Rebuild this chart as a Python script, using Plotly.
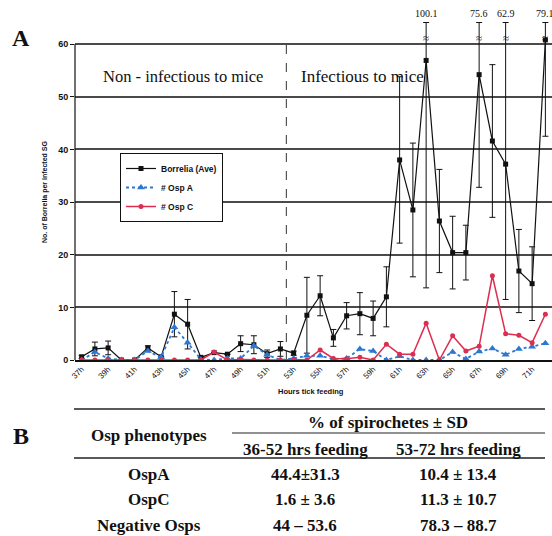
import plotly.graph_objects as go

# ---------------- data ----------------
hours = ["37h", "38h", "39h", "40h", "41h", "42h", "43h", "44h", "45h", "46h",
         "47h", "48h", "49h", "50h", "51h", "52h", "53h", "54h", "55h", "56h",
         "57h", "58h", "59h", "60h", "61h", "62h", "63h", "64h", "65h", "66h",
         "67h", "68h", "69h", "70h", "71h", "72h"]
tick_labels = ["37h", "39h", "41h", "43h", "45h", "47h", "49h", "51h", "53h",
               "55h", "57h", "59h", "61h", "63h", "65h", "67h", "69h", "71h"]

borrelia = [0.6, 2.1, 2.3, 0, 0, 2.3, 0.6, 8.7, 6.8, 0.5,
            1.4, 1.1, 3.1, 2.9, 1.2, 2.1, 1.3, 8.5, 12.2, 4.2,
            8.4, 8.8, 7.9, 12.0, 38.0, 28.5, 56.9, 26.4, 20.4, 20.4,
            54.2, 41.6, 37.2, 16.9, 14.5, 60.8]
borrelia_sd = [0.3, 1.3, 1.3, 0, 0, 0.4, 0, 4.3, 4.7, 0,
               0, 0, 1.5, 1.7, 0.7, 1.4, 0.4, 7.2, 3.8, 1.6,
               2.5, 4.0, 3.3, 5.7, 15.8, 12.7, 43.2, 9.8, 6.9, 5.2,
               21.4, 14.5, 25.7, 7.9, 7.0, 18.3]
osp_a = [0, 1.5, 0.3, 0, 0, 1.7, 0.5, 6.2, 3.3, 0.1,
         0, 0.3, 0.3, 2.7, 1.0, 0, 0.3, 0.8, 0.8, 0.2,
         0.3, 2.1, 1.7, 0, 0.7, 0, 0, 0, 1.5, 0.2,
         1.6, 2.2, 1.0, 2.1, 2.5, 3.2]
osp_c = [0, 0, 0, 0, 0, 0, 0, 0, 0, 0,
         1.5, 0, 0.1, 0, 0, 0, 0.1, 0, 1.9, 0.3,
         0.25, 0.5, 0, 3.0, 1.1, 1.1, 7.0, 0, 4.6, 1.7,
         2.6, 16.0, 5.0, 4.7, 3.3, 8.7]

axis_max = 60
break_cap = 64.1   # where a broken error bar is drawn to

table_header = ["Osp phenotypes", "% of spirochetes ± SD", "36-52 hrs feeding", "53-72 hrs feeding"]
table_rows = ["OspA", "OspC", "Negative Osps"]
table_early = ["44.4±31.3", "1.6 ± 3.6", "44 – 53.6"]
table_late = ["10.4 ± 13.4", "11.3 ± 10.7", "78.3 – 88.7"]

# ---------------- geometry helpers (pixel -> paper) ----------------
W, H = 552, 536
ML, MR, MT, MB = 75, 0, 2, 176
PW, PH = W - ML - MR, H - MT - MB


def px(x):
    return (x - ML) / PW


def py(y):
    return (H - MB - y) / PH


SANS = "Liberation Sans, Arial, sans-serif"
SERIF = "Liberation Serif, Times New Roman, serif"

# error bars: broken above the axis maximum
err_plus, err_minus, brk_x, brk_lbl = [], [], [], []
for h, m, s in zip(hours, borrelia, borrelia_sd):
    if s == 0:
        err_plus.append(None)
        err_minus.append(None)
        continue
    if m + s > axis_max:
        err_plus.append(break_cap - m)
        brk_x.append(h)
        brk_lbl.append(f"{m + s:.1f}")
    else:
        err_plus.append(s)
    err_minus.append(min(s, m))

fig = go.Figure()

fig.add_trace(go.Scatter(
    x=hours, y=borrelia, name="Borrelia (Ave)", mode="lines+markers",
    line=dict(color="#111111", width=1.2),
    marker=dict(symbol="square", size=5, color="#111111"),
    error_y=dict(type="data", symmetric=False, array=err_plus, arrayminus=err_minus,
                 color="#111111", thickness=1, width=3),
))
fig.add_trace(go.Scatter(
    x=hours, y=osp_a, name="# Osp A", mode="lines+markers",
    line=dict(color="#2a78d2", width=1.8, dash="dot"),
    marker=dict(symbol="triangle-up", size=7, color="#2a78d2"),
))
fig.add_trace(go.Scatter(
    x=hours, y=osp_c, name="# Osp C", mode="lines+markers",
    line=dict(color="#dd2d50", width=1.5),
    marker=dict(symbol="circle", size=5, color="#dd2d50"),
))

fig.update_layout(
    width=W, height=H,
    margin=dict(l=ML, r=MR, t=MT, b=MB, pad=0),
    paper_bgcolor="white", plot_bgcolor="white",
    font=dict(family=SANS, size=8, color="#111111"),
    showlegend=True,
    hovermode=False,
    legend=dict(x=px(120), y=py(153), xanchor="left", yanchor="top",
                bordercolor="#111111", borderwidth=1, bgcolor="white",
                font=dict(family=SANS, size=8.5, color="#111111", weight="bold"),
                tracegroupgap=0, itemwidth=30),
    xaxis=dict(type="category", categoryorder="array", categoryarray=hours,
               range=[-0.5, len(hours) - 0.5], tickmode="array", tickvals=tick_labels,
               ticktext=tick_labels, tickangle=-45,
               tickfont=dict(family=SANS, size=8, color="#111111"),
               showgrid=False, showline=True, linecolor="#111111", linewidth=1.5,
               ticks="", zeroline=False),
    yaxis=dict(range=[0, 68], tickmode="array", tickvals=[0, 10, 20, 30, 40, 50, 60],
               showgrid=True, gridcolor="#4a4a4a", gridwidth=2, zeroline=False,
               showline=False, ticks="outside", ticklen=4, tickcolor="#111111",
               tickfont=dict(family=SANS, size=9, color="#111111", weight="bold")),
    shapes=[
        dict(type="line", xref="paper", yref="y", x0=0, x1=0, y0=0, y1=axis_max,
             line=dict(color="#111111", width=1.2)),
        dict(type="line", xref="x", yref="y", x0=15.45, x1=15.45, y0=0, y1=axis_max,
             line=dict(color="#333333", width=1, dash="dash"), layer="below"),
        # table rules
        dict(type="line", xref="paper", yref="paper", x0=px(74), x1=px(545), y0=py(409), y1=py(409),
             line=dict(color="#222222", width=1.5)),
        dict(type="line", xref="paper", yref="paper", x0=px(232), x1=px(545), y0=py(433), y1=py(433),
             line=dict(color="#222222", width=1)),
        dict(type="line", xref="paper", yref="paper", x0=px(74), x1=px(545), y0=py(458), y1=py(458),
             line=dict(color="#222222", width=1.5)),
    ],
)

ann = []

# break marks and true error-bar tops (data coordinates)
for h, lbl in zip(brk_x, brk_lbl):
    ann.append(dict(text="≈", xref="x", yref="y", x=h, y=61.2, showarrow=False,
                    xanchor="center", yanchor="middle",
                    font=dict(family=SERIF, size=11, color="#111111")))
    ann.append(dict(text=lbl, xref="x", yref="y", x=h, y=65.8, showarrow=False,
                    xanchor="center", yanchor="middle",
                    font=dict(family=SERIF, size=10, color="#111111")))


def add_text(text, x, y, font, size, bold=False, angle=0):
    ann.append(dict(text=text, xref="paper", yref="paper", x=px(x), y=py(y),
                    xanchor="center", yanchor="middle", showarrow=False, textangle=angle,
                    font=dict(family=font, size=size, color="#111111",
                              weight="bold" if bold else "normal")))


add_text("A", 21, 38, SERIF, 24, bold=True)
add_text("B", 21, 436, SERIF, 24, bold=True)
add_text("Non - infectious to mice", 183, 77, SERIF, 16.5)
add_text("Infectious to mice", 362, 77, SERIF, 17)
add_text("No. of Borrelia per infected SG", 45, 192, SANS, 7, bold=True, angle=-90)
add_text("Hours tick feeding", 311, 392, SANS, 7.5, bold=True)

add_text(table_header[0], 149, 435, SERIF, 17, bold=True)
add_text(table_header[1], 388, 422, SERIF, 17, bold=True)
add_text(table_header[2], 305, 449, SERIF, 17, bold=True)
add_text(table_header[3], 458, 449, SERIF, 17, bold=True)
for i, (r, e, l) in enumerate(zip(table_rows, table_early, table_late)):
    yy = 474 + i * 25.5
    add_text(r, 149, yy, SERIF, 17, bold=True)
    add_text(e, 305, yy, SERIF, 17, bold=True)
    add_text(l, 458, yy, SERIF, 17, bold=True)

fig.update_layout(annotations=ann)

fig.write_html("out.html", config={"displayModeBar": False, "staticPlot": True},
               post_script="document.body.style.margin='0';document.body.style.overflow='hidden';")
